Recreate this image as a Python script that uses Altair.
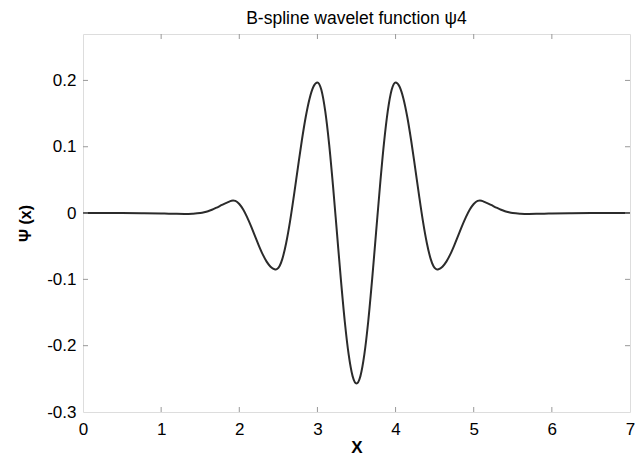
import altair as alt
import pandas as pd

# Sampled values of the cubic B-spline wavelet psi4 on [0, 7]
xs = [0.00, 0.25, 0.50, 0.75, 1.00, 1.10, 1.20, 1.30, 1.40, 1.50,
      1.55, 1.60, 1.65, 1.70, 1.75, 1.80, 1.85, 1.90, 1.92, 1.95,
      2.00, 2.05, 2.10, 2.15, 2.20, 2.25, 2.30, 2.35, 2.40, 2.45,
      2.47, 2.50, 2.55, 2.60, 2.65, 2.70, 2.75, 2.80, 2.85, 2.90,
      2.95, 3.00, 3.05, 3.10, 3.15, 3.20, 3.25, 3.30, 3.35, 3.40,
      3.45, 3.50, 3.55, 3.60, 3.65, 3.70, 3.75, 3.80, 3.85, 3.90,
      3.95, 4.00, 4.05, 4.10, 4.15, 4.20, 4.25, 4.30, 4.35, 4.40,
      4.45, 4.50, 4.53, 4.55, 4.60, 4.65, 4.70, 4.75, 4.80, 4.85,
      4.90, 4.95, 5.00, 5.05, 5.08, 5.10, 5.15, 5.20, 5.25, 5.30,
      5.35, 5.40, 5.45, 5.50, 5.60, 5.70, 5.80, 5.90, 6.00, 6.25,
      6.50, 6.75, 7.00]
psi = [0.0, 0.0, 0.0, -0.0002, -0.0006, -0.0009, -0.0012, -0.0013, -0.0010, 0.0,
       0.0012, 0.0028, 0.0050, 0.0077, 0.0106, 0.0136, 0.0162, 0.0186, 0.0190, 0.0183,
       0.0136, 0.0053, -0.0062, -0.0198, -0.0345, -0.0491, -0.0624, -0.0733, -0.0809, -0.0847,
       -0.0850, -0.0828, -0.0695, -0.0451, -0.0122, 0.0270, 0.0686, 0.1090, 0.1448, 0.1729,
       0.1909, 0.1970, 0.1859, 0.1536, 0.1035, 0.0401, -0.0300, -0.1001, -0.1635, -0.2136,
       -0.2459, -0.2570, -0.2459, -0.2136, -0.1635, -0.1001, -0.0300, 0.0401, 0.1035, 0.1536,
       0.1859, 0.1970, 0.1909, 0.1729, 0.1448, 0.1090, 0.0686, 0.0270, -0.0122, -0.0451,
       -0.0695, -0.0828, -0.0850, -0.0847, -0.0809, -0.0733, -0.0624, -0.0491, -0.0345, -0.0198,
       -0.0062, 0.0053, 0.0136, 0.0183, 0.0190, 0.0186, 0.0162, 0.0136, 0.0106, 0.0077,
       0.0050, 0.0028, 0.0012, 0.0, -0.0010, -0.0013, -0.0012, -0.0009, -0.0006, -0.0002,
       0.0, 0.0, 0.0]

x_ticks = [0, 1, 2, 3, 4, 5, 6, 7]
y_ticks = [-0.3, -0.2, -0.1, 0, 0.1, 0.2]
x_inner = [1, 2, 3, 4, 5, 6]
y_inner = [-0.2, -0.1, 0, 0.1, 0.2]

W, H = 547, 378
FONT = "Liberation Sans"
FRAME = "#999999"
TICK_LEN = 5

curve = pd.DataFrame({"x": xs, "y": psi})
xt = pd.DataFrame({"x": x_inner})
yt = pd.DataFrame({"y": y_inner})

x_scale = alt.Scale(domain=[0, 7], nice=False, zero=False)
y_scale = alt.Scale(domain=[-0.3, 0.27], nice=False, zero=False)

x_axis = alt.Axis(values=x_ticks, title="X", ticks=False, domain=False, grid=False,
                  labelFlush=False, labelOverlap=False, labelPadding=9,
                  labelFont=FONT, labelFontSize=17, labelColor="black",
                  titleFont=FONT, titleFontSize=17, titleFontWeight="bold",
                  titleColor="black", titlePadding=2)
y_axis = alt.Axis(values=y_ticks, title="Ψ (x)", ticks=False, domain=False, grid=False,
                  labelFlush=False, labelOverlap=False, labelPadding=7,
                  labelExpr="datum.value < 0 ? '-' + format(-datum.value, '~g') : format(datum.value, '~g')",
                  labelFont=FONT, labelFontSize=17, labelColor="black",
                  titleFont=FONT, titleFontSize=16, titleFontWeight="bold",
                  titleColor="black", titlePadding=13)

X = alt.X("x:Q", scale=x_scale, axis=x_axis)
Y = alt.Y("y:Q", scale=y_scale, axis=y_axis)

line = alt.Chart(curve).mark_line(
    color="#2b2b2b", strokeWidth=2, interpolate="monotone"
).encode(x=X, y=Y)

# Inward tick marks on all four sides of the box
tick_bottom = alt.Chart(xt).mark_rule(color=FRAME, strokeWidth=1).encode(
    x=X, y=alt.value(H), y2=alt.value(H - TICK_LEN))
tick_top = alt.Chart(xt).mark_rule(color=FRAME, strokeWidth=1).encode(
    x=X, y=alt.value(0), y2=alt.value(TICK_LEN))
tick_left = alt.Chart(yt).mark_rule(color=FRAME, strokeWidth=1).encode(
    y=Y, x=alt.value(0), x2=alt.value(TICK_LEN))
tick_right = alt.Chart(yt).mark_rule(color=FRAME, strokeWidth=1).encode(
    y=Y, x=alt.value(W), x2=alt.value(W - TICK_LEN))

chart = alt.layer(line, tick_bottom, tick_top, tick_left, tick_right).properties(
    width=W, height=H,
    title=alt.TitleParams("B-spline wavelet function ψ4", font=FONT, fontSize=17.5,
                          fontWeight="normal", color="black", anchor="middle", offset=6),
    autosize=alt.AutoSizeParams(type="none"),
    padding={"left": 83, "top": 34, "right": 10, "bottom": 49},
).configure_view(
    stroke=FRAME, strokeWidth=1
).configure(background="white")

chart.save("out.html", embed_options={"renderer": "svg", "actions": False})
